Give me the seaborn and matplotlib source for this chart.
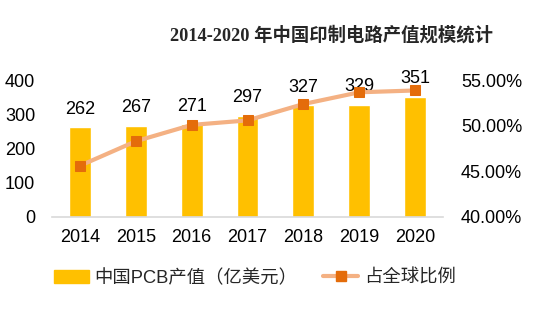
import matplotlib
matplotlib.use("Agg")
import matplotlib.pyplot as plt
import seaborn as sns
import pandas as pd
from matplotlib.patches import Patch
from matplotlib.lines import Line2D

years = ["2014", "2015", "2016", "2017", "2018", "2019", "2020"]
output_values = [262, 267, 271, 297, 327, 329, 351]
global_share = [0.456, 0.483, 0.501, 0.506, 0.524, 0.537, 0.539]
left_ticks = [0, 100, 200, 300, 400]
right_ticks = [0.40, 0.45, 0.50, 0.55]
title_text = "2014-2020 年中国印制电路产值规模统计"
bar_label_text = "中国PCB产值（亿美元）"
line_label_text = "占全球比例"

BAR_COLOR = "#FFC000"
LINE_COLOR = "#F4B183"
MARKER_COLOR = "#E46C0A"

sns.set_style("white")
plt.rcParams["font.family"] = ["Liberation Sans", "Noto Sans CJK SC", "DejaVu Sans"]

df = pd.DataFrame({"year": years, "value": output_values, "share": global_share})

fig = plt.figure(figsize=(5.5, 3.29), dpi=100)
ax = fig.add_axes([52 / 550, (329 - 216.5) / 329, 391 / 550, 136 / 329])

sns.barplot(data=df, x="year", y="value", ax=ax, color=BAR_COLOR,
            saturation=1, width=0.39, order=years)
ax.set_xlim(-0.5, len(years) - 0.5)
ax.set_ylim(0, 400)
ax.set_yticks(left_ticks)
ax.set_yticklabels([str(t) for t in left_ticks])
ax.set_xlabel("")
ax.set_ylabel("")
ax.bar_label(ax.containers[0], labels=[str(v) for v in output_values],
             padding=7, fontsize=13, color="#000000")

ax2 = ax.twinx()
sns.lineplot(data=df, x="year", y="share", ax=ax2, color=LINE_COLOR,
             linewidth=3, marker="s", markersize=7,
             markerfacecolor=MARKER_COLOR, markeredgecolor=MARKER_COLOR,
             sort=False)
ax2.set_ylim(0.40, 0.55)
ax2.set_yticks(right_ticks)
ax2.set_yticklabels([f"{t*100:.2f}%" for t in right_ticks])
ax2.set_ylabel("")
ax2.set_xlabel("")

for a in (ax, ax2):
    for s in ("top", "left", "right"):
        a.spines[s].set_visible(False)
    a.spines["bottom"].set_color("#D9D9D9")
    a.spines["bottom"].set_linewidth(1.2)
    a.tick_params(length=0)
ax2.spines["bottom"].set_visible(False)
ax.tick_params(axis="y", labelsize=13, pad=12, labelcolor="#000000")
ax.tick_params(axis="x", labelsize=13, pad=9, labelcolor="#000000")
ax2.tick_params(axis="y", labelsize=13, pad=13, labelcolor="#000000")
ax.grid(False)
ax2.grid(False)

fig.text(0.602, 1 - 35 / 329, title_text, ha="center", va="center",
         fontsize=13.2, fontweight="bold",
         family=["Liberation Serif", "Noto Sans CJK SC"])

handles = [
    Patch(facecolor=BAR_COLOR, edgecolor=BAR_COLOR),
    Line2D([0], [0], color=LINE_COLOR, linewidth=3, marker="s", markersize=7,
           markerfacecolor=MARKER_COLOR, markeredgecolor=MARKER_COLOR),
]
fig.legend(handles, [bar_label_text, line_label_text], loc="center",
           bbox_to_anchor=(255 / 550, 1 - 278 / 329), ncol=2, frameon=False,
           fontsize=13.2, handlelength=1.9, handletextpad=0.3,
           columnspacing=1.4, labelcolor="#262626")

fig.savefig("out.png", dpi=100)
